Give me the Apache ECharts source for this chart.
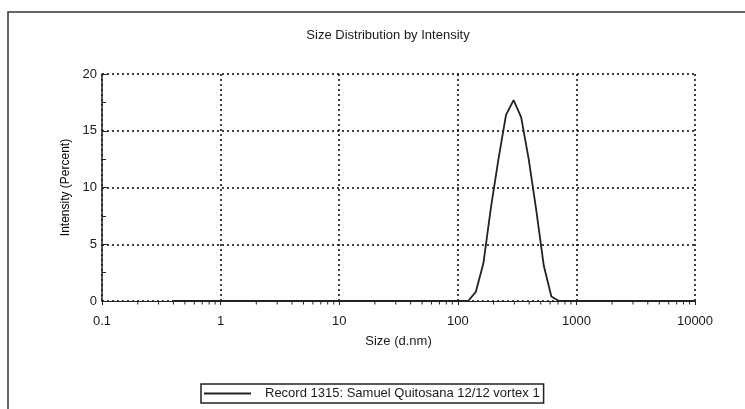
<!DOCTYPE html>
<html>
<head>
<meta charset="utf-8">
<title>Size Distribution by Intensity</title>
<script src="https://cdn.jsdelivr.net/npm/echarts@6/dist/echarts.min.js"></script>
<style>
  html, body { margin: 0; padding: 0; background: #fff; }
  #chart { width: 745px; height: 409px; }
</style>
</head>
<body>
<div id="chart"></div>
<script>
// Size bins (d.nm) of the intensity distribution
const sizes = [
  0.4, 0.4632, 0.5365, 0.6213, 0.7195, 0.8332, 0.9649, 1.117, 1.294, 1.499,
  1.736, 2.01, 2.328, 2.696, 3.122, 3.615, 4.187, 4.849, 5.615, 6.503,
  7.531, 8.721, 10.1, 11.7, 13.54, 15.69, 18.17, 21.04, 24.36, 28.21,
  32.67, 37.84, 43.82, 50.75, 58.77, 68.06, 78.82, 91.28, 105.7, 122.4,
  141.8, 164.2, 190.1, 220.2, 255.0, 295.3, 342.0, 396.1, 458.7, 531.2,
  615.1, 712.4, 825.0, 955.4, 1106, 1281, 1484, 1718, 1990, 2305,
  2669, 3091, 3580, 4145, 4801, 5560, 6439, 7456, 8635, 10000
];
// Intensity (Percent) per bin
const intensity = [
  0, 0, 0, 0, 0, 0, 0, 0, 0, 0,
  0, 0, 0, 0, 0, 0, 0, 0, 0, 0,
  0, 0, 0, 0, 0, 0, 0, 0, 0, 0,
  0, 0, 0, 0, 0, 0, 0, 0, 0, 0,
  0.8, 3.3, 8.2, 12.5, 16.4, 17.7, 16.2, 12.5, 8.0, 3.1,
  0.4, 0, 0, 0, 0, 0, 0, 0, 0, 0,
  0, 0, 0, 0, 0, 0, 0, 0, 0, 0
];
// Minor tick positions on the logarithmic size axis
const minorTicks = [
  0.2, 0.3, 0.4, 0.5, 0.6, 0.7, 0.8, 0.9,
  2, 3, 4, 5, 6, 7, 8, 9,
  20, 30, 40, 50, 60, 70, 80, 90,
  200, 300, 400, 500, 600, 700, 800, 900,
  2000, 3000, 4000, 5000, 6000, 7000, 8000, 9000
];
const recordName = 'Record 1315: Samuel Quitosana 12/12 vortex 1';

const FONT = '"Liberation Sans", Arial, sans-serif';
const INK = '#1a1a1a';
const dotted = { type: [2, 3], color: '#000', width: 1.5 };

const chart = echarts.init(document.getElementById('chart'), null, { renderer: 'canvas' });

chart.setOption({
  animation: false,
  backgroundColor: '#fff',
  title: {
    text: 'Size Distribution by Intensity',
    left: 383, top: 24, textAlign: 'center',
    textStyle: { fontFamily: FONT, fontSize: 13, fontWeight: 'normal', color: INK }
  },
  graphic: [{
    type: 'rect', silent: true,
    shape: { x: 8, y: 12, width: 800, height: 500 },
    style: { fill: 'none', stroke: '#333', lineWidth: 1.5 }
  }],
  grid: { left: 102, right: 50, top: 74, bottom: 108, containLabel: false },
  legend: {
    left: 201, top: 384,
    data: [recordName],
    itemWidth: 47, itemHeight: 10,
    itemStyle: { opacity: 0 },
    padding: [3, 4, 3, 2],
    borderColor: '#222', borderWidth: 1.5, borderRadius: 0,
    textStyle: { fontFamily: FONT, fontSize: 13, color: INK, padding: [0, 0, 0, 9] }
  },
  xAxis: {
    type: 'log', logBase: 10, min: 0.1, max: 10000, splitNumber: 5,
    name: 'Size (d.nm)', nameLocation: 'middle', nameGap: 34,
    nameTextStyle: { fontFamily: FONT, fontSize: 13, color: INK },
    axisLine: { lineStyle: { color: '#222', width: 1 } },
    axisTick: { show: true, inside: false, length: 4, lineStyle: { color: '#222' } },
    axisLabel: {
      fontFamily: FONT, fontSize: 13, color: INK, margin: 14,
      formatter: v => String(v)
    },
    splitLine: { show: true, lineStyle: dotted }
  },
  yAxis: {
    type: 'value', min: 0, max: 20, interval: 5,
    name: 'Intensity (Percent)', nameLocation: 'middle', nameGap: 24,
    nameTextStyle: { fontFamily: FONT, fontSize: 12, color: '#000' },
    axisLine: { show: true, lineStyle: { color: '#222', width: 1.5 } },
    axisTick: { show: true, inside: true, length: 5, lineStyle: { color: '#222' } },
    minorTick: { show: true, splitNumber: 2, length: 4, lineStyle: { color: '#222' } },
    axisLabel: { fontFamily: FONT, fontSize: 13, color: INK, margin: 5 },
    splitLine: { show: true, lineStyle: dotted }
  },
  series: [
    {
      name: recordName,
      type: 'line',
      data: sizes.map((s, i) => [s, intensity[i]]),
      symbol: 'none',
      lineStyle: { color: '#222', width: 1.8 },
      itemStyle: { color: '#222' },
      z: 5
    },
    {
      type: 'custom',
      silent: true,
      data: minorTicks.map(v => [v, 0]),
      renderItem: function (params, api) {
        const p = api.coord([api.value(0), 0]);
        return {
          type: 'line',
          shape: { x1: p[0], y1: p[1], x2: p[0], y2: p[1] + 3.5 },
          style: { stroke: '#222', lineWidth: 1 }
        };
      },
      z: 4
    }
  ]
});
</script>
</body>
</html>
